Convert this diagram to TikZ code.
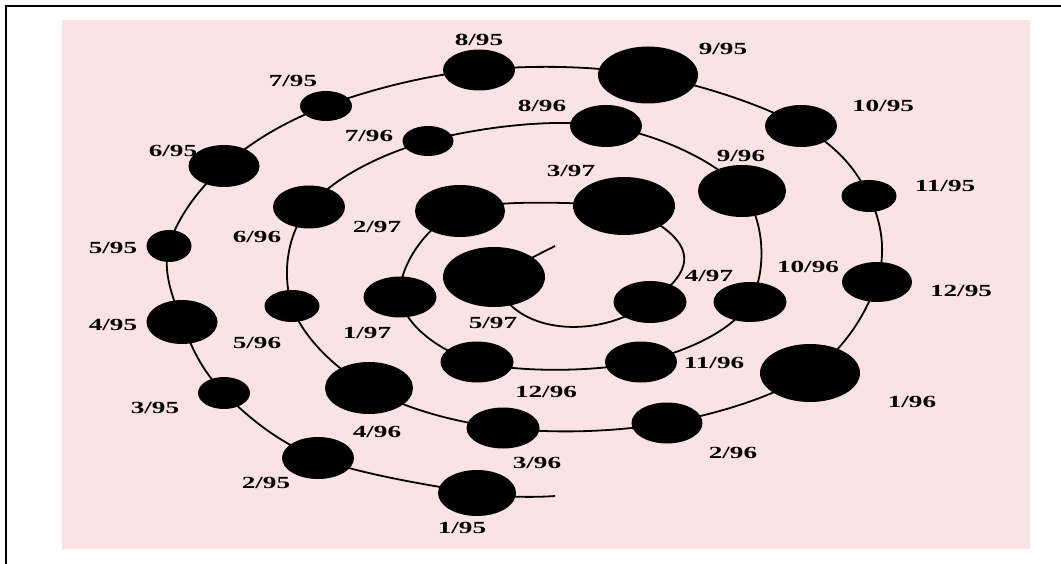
\documentclass[tikz,border=0pt]{standalone}
\usepackage{fontspec}
\usepackage{tikz}
\usepackage{xcolor}
\usetikzlibrary{calc,positioning,shapes}
\newfontfamily\tagfont[FakeStretch=1.6]{Liberation Serif}
\definecolor{mypink}{HTML}{FCE3E3}
\tikzset{%
  spiral/.style={line width=1.8pt},
  month/.style={ellipse,fill=black,inner sep=0pt},
  tag/.style={font=\tagfont\bfseries\fontsize{17}{20}\selectfont,inner sep=0pt},
}

\begin{document}
\begin{tikzpicture}[x=1pt,y=-1pt]
      \useasboundingbox (0,0) rectangle (1061,564);
      \fill[mypink] (62,20) rectangle (1030,549);
      \draw[line width=2pt] (6,564) -- (6,6) -- (1061,6);

      % 1995
      \node[month,minimum width=78,minimum height=46] (node_1_95) at (477,493) {};
      \node[month,minimum width=72,minimum height=42] (node_2_95) at (318,458) {};
      \node[month,minimum width=52,minimum height=32] (node_3_95) at (224,393) {};
      \node[month,minimum width=71,minimum height=44] (node_4_95) at (182,322) {};
      \node[month,minimum width=45,minimum height=32] (node_5_95) at (169,246) {};
      \node[month,minimum width=71,minimum height=42] (node_6_95) at (224,166) {};
      \node[month,minimum width=52,minimum height=30] (node_7_95) at (326,106) {};
      \node[month,minimum width=72,minimum height=41] (node_8_95) at (479,70) {};
      \node[month,minimum width=100,minimum height=57] (node_9_95) at (648,75) {};
      \node[month,minimum width=72,minimum height=42] (node_10_95) at (801,126) {};
      \node[month,minimum width=55,minimum height=32] (node_11_95) at (869,196) {};
      \node[month,minimum width=70,minimum height=40] (node_12_95) at (877,282) {};

      % 1996
      \node[month,minimum width=100,minimum height=58] (node_1_96) at (810,373) {};
      \node[month,minimum width=71,minimum height=41] (node_2_96) at (667,423) {};
      \node[month,minimum width=73,minimum height=41] (node_3_96) at (503,428) {};
      \node[month,minimum width=88,minimum height=52] (node_4_96) at (369,388) {};
      \node[month,minimum width=55,minimum height=32] (node_5_96) at (292,306) {};
      \node[month,minimum width=72,minimum height=43] (node_6_96) at (309,207) {};
      \node[month,minimum width=51,minimum height=30] (node_7_96) at (428,141) {};
      \node[month,minimum width=72,minimum height=42] (node_8_96) at (606,126) {};
      \node[month,minimum width=88,minimum height=52] (node_9_96) at (742,191) {};
      \node[month,minimum width=73,minimum height=40] (node_10_96) at (750,302) {};
      \node[month,minimum width=72,minimum height=41] (node_11_96) at (641,362) {};
      \node[month,minimum width=73,minimum height=41] (node_12_96) at (477,362) {};

      % 1997
      \node[month,minimum width=73,minimum height=41] (node_1_97) at (400,297) {};
      \node[month,minimum width=90,minimum height=52] (node_2_97) at (460,211) {};
      \node[month,minimum width=102,minimum height=58] (node_3_97) at (624,206) {};
      \node[month,minimum width=73,minimum height=42] (node_4_97) at (650,302) {};
      \node[month,minimum width=102,minimum height=60] (node_5_97) at (494,277) {};

      \coordinate (tail_out) at (555,496);
      \coordinate (tail_in) at (555,246);

      \draw[spiral] plot[smooth,tension=0.6] coordinates {(tail_out) (node_1_95) (node_2_95) (node_3_95)
        (node_4_95) (node_5_95) (node_6_95) (node_7_95) (node_8_95) (node_9_95) (node_10_95)
        (node_11_95) (node_12_95) (node_1_96) (node_2_96) (node_3_96) (node_4_96) (node_5_96)
        (node_6_96) (node_7_96) (node_8_96) (node_9_96) (node_10_96) (node_11_96) (node_12_96)
        (node_1_97) (node_2_97) (node_3_97)};
      \draw[spiral] (node_3_97.center) to[out=-24,in=34,looseness=1.8] (node_4_97.center)
        to[out=-142,in=-75] (node_5_97.center) -- (tail_in);

      \node[tag] (tag_1_95) at (462,528) {1/95};
      \node[tag] (tag_2_95) at (266,483) {2/95};
      \node[tag] (tag_3_95) at (155,408) {3/95};
      \node[tag] (tag_4_95) at (113,325) {4/95};
      \node[tag] (tag_5_95) at (113,248) {5/95};
      \node[tag] (tag_6_95) at (173,151) {6/95};
      \node[tag] (tag_7_95) at (293,81) {7/95};
      \node[tag] (tag_8_95) at (479,40) {8/95};
      \node[tag] (tag_9_95) at (723,49) {9/95};
      \node[tag] (tag_10_95) at (883,106) {10/95};
      \node[tag] (tag_11_95) at (945,186) {11/95};
      \node[tag] (tag_12_95) at (961,291) {12/95};

      \node[tag] (tag_1_96) at (912,402) {1/96};
      \node[tag] (tag_2_96) at (733,453) {2/96};
      \node[tag] (tag_3_96) at (537,463) {3/96};
      \node[tag] (tag_4_96) at (377,432) {4/96};
      \node[tag] (tag_5_96) at (257,343) {5/96};
      \node[tag] (tag_6_96) at (257,237) {6/96};
      \node[tag] (tag_7_96) at (369,136) {7/96};
      \node[tag] (tag_8_96) at (542,106) {8/96};
      \node[tag] (tag_9_96) at (741,156) {9/96};
      \node[tag] (tag_10_96) at (808,267) {10/96};
      \node[tag] (tag_11_96) at (714,363) {11/96};
      \node[tag] (tag_12_96) at (546,392) {12/96};

      \node[tag] (tag_1_97) at (367,333) {1/97};
      \node[tag] (tag_2_97) at (377,227) {2/97};
      \node[tag] (tag_3_97) at (571,171) {3/97};
      \node[tag] (tag_4_97) at (709,276) {4/97};
      \node[tag] (tag_5_97) at (493,323) {5/97};
    \end{tikzpicture}
\end{document}
